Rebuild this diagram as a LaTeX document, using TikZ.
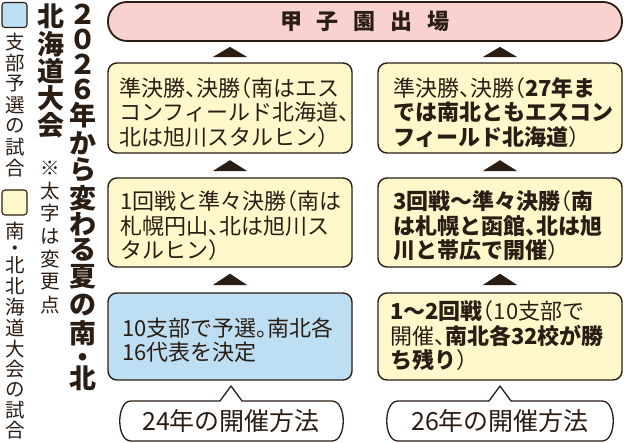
\documentclass[tikz,border=0pt]{standalone}
\usepackage{fontspec}
\setmainfont{Noto Sans CJK JP}[RawFeature=+halt]
\usetikzlibrary{calc}
\definecolor{ink}{HTML}{2A1D14}
\definecolor{pinkf}{HTML}{F9D2D0}
\definecolor{yelf}{HTML}{FFF8CB}
\definecolor{bluef}{HTML}{BEDFF3}
\tikzset{
  panel/.style={draw=ink, line width=1.4pt, rounded corners=9pt, minimum width=244pt, inner sep=0pt},
  banner/.style={draw=ink, line width=1.8pt, rounded corners=19pt, fill=pinkf, minimum width=514pt, minimum height=39pt, inner sep=0pt},
  tri/.style={fill=ink, draw=ink, line width=0.8pt, line join=miter},
  boxtext/.style={anchor=west, align=left, inner sep=0pt, text=ink, font=\fontsize{22}{24.5}\selectfont},
  bubble/.style={draw=ink, line width=1.3pt, fill=white, line join=round},
  bubtext/.style={inner sep=0pt, text=ink, font=\fontsize{25}{27}\selectfont},
  legsq/.style={draw=ink, line width=1.1pt, rounded corners=3pt, minimum size=25pt, inner sep=0pt},
  vchar/.style={inner sep=0pt, text=ink, font=\fontsize{19.5}{20}\selectfont},
  vbig/.style={inner sep=0pt, text=ink, font=\fontsize{27}{28}\selectfont\bfseries},
}
% filled up-pointing triangle between the top of node #1 and the bottom of node #2
\newcommand\uptri[4]{%
  \filldraw[tri] ($(#1.north)+(-16,-#3)$) -- ($(#1.north)+(16,-#3)$)
    -- ($(#1.north |- #2.south)+(0,#4)$) -- cycle;}
\begin{document}
\begin{tikzpicture}[x=1pt,y=-1pt]
\useasboundingbox (0,0) rectangle (630,443);

% banner
\node[banner] (banner) at (365,21.5) {};
\node[inner sep=0pt, text=ink, font=\fontsize{22}{24}\selectfont\bfseries] (bantext) at (365,21.5)
  {甲\hspace{15pt}子\hspace{15pt}園\hspace{15pt}出\hspace{15pt}場};

% boxes
\node[panel, fill=yelf, minimum height=90pt] (b1) at (230,108) {};
\node[panel, fill=yelf, minimum height=90pt] (b2) at (500,108) {};
\node[panel, fill=yelf, minimum height=89pt] (m1) at (230,222.5) {};
\node[panel, fill=yelf, minimum height=89pt] (m2) at (500,222.5) {};
\node[panel, fill=bluef, minimum height=87pt] (l1) at (230,336.5) {};
\node[panel, fill=yelf, minimum height=87pt] (l2) at (500,336.5) {};

% box texts
\node[boxtext] (t1) at (119,112.5) {準決勝、決勝（南はエス\\コンフィールド北海道、\\北は旭川スタルヒン）};
\node[boxtext] (t2) at (393,112.5) {準決勝、決勝（\textbf{27年ま}\\\textbf{では南北ともエスコン}\\\textbf{フィールド北海道}）};
\node[boxtext] (t3) at (120,226) {1回戦と準々決勝（南は\\札幌円山、北は旭川ス\\タルヒン）};
\node[boxtext] (t4) at (393,226) {\textbf{3回戦～準々決勝}（\textbf{南}\\\textbf{は札幌と函館、北は旭}\\\textbf{川と帯広で開催}）};
\node[boxtext] (t5) at (122,340) {10支部で予選。南北各\\16代表を決定};
\node[boxtext] (t6) at (390,336) {\textbf{1～2回戦}（10支部で\\開催、\textbf{南北各32校が勝}\\\textbf{ち残り}）};

% triangles (upward connectors)
\uptri{b1}{banner}{5.5}{5.5}
\uptri{b2}{banner}{5.5}{5.5}
\uptri{m1}{b1}{6.5}{7}
\uptri{m2}{b2}{6.5}{7}
\uptri{l1}{m1}{7.5}{6.5}
\uptri{l2}{m2}{7.5}{6.5}

% bubbles
\draw[bubble] (131,441) .. controls (116,441) and (116,401) .. (131,401) -- (220,401) -- (231,386) -- (242,401)
  -- (332,401) .. controls (347,401) and (347,441) .. (332,441) -- cycle;
\node[bubtext] (lab1) at (231,421.5) {24年の開催方法};
\draw[bubble] (398,441) .. controls (383,441) and (383,401) .. (398,401) -- (489,401) -- (500,386) -- (511,401)
  -- (602,401) .. controls (617,401) and (617,441) .. (602,441) -- cycle;
\node[bubtext] (lab2) at (500,421.5) {26年の開催方法};

% legend
\node[legsq, fill=bluef] (sq1) at (14.5,15) {};
\node[legsq, fill=yelf] (sq2) at (14.5,202.5) {};
\foreach \c/\y [count=\i] in {支/42,部/63,予/84,選/105,の/126,試/147,合/168}
  \node[vchar] (la\i) at (15,\y) {\c};
\node[vchar] (lbA) at (15,231) {南};
\node[vchar, anchor=base] (lbB) at (15,255.5) {\smash{・}};
\foreach \c/\y [count=\i] in {北/265,北/286,海/307,道/328,大/349,会/369,の/390,試/410,合/430}
  \node[vchar] (lb\i) at (15,\y) {\c};

% title columns
\foreach \c/\y [count=\i] in {２/14,０/39,２/64,６/89,年/115,か/143,ら/170,変/198,わ/224,る/250,夏/277,の/305,南/333}
  \node[vbig] (ta\i) at (83,\y) {\c};
\node[vbig, anchor=base] (taB) at (83,367.5) {\smash{・}};
\node[vbig] (taC) at (83,378) {北};
\foreach \c/\y [count=\i] in {北/16,海/44,道/71,大/98,会/125}
  \node[vbig] (tb\i) at (51,\y) {\c};
\foreach \c/\y [count=\i] in {※/168,太/191,字/213,は/236,変/259,更/282,点/305}
  \node[vchar] (tc\i) at (50,\y) {\c};
\end{tikzpicture}
\end{document}
